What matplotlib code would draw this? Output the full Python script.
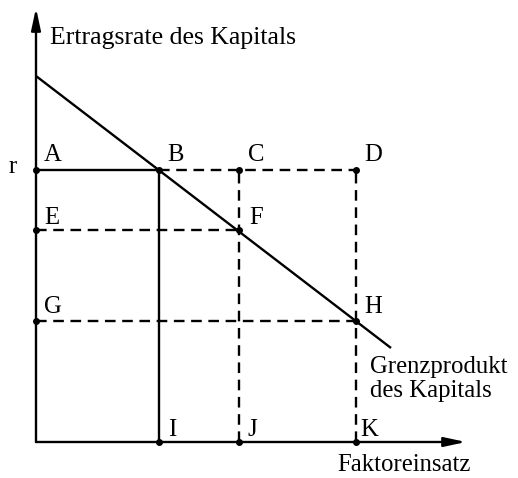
import matplotlib
matplotlib.use("Agg")
import matplotlib.pyplot as plt

# data (in drawing units, origin at axes crossing)
x_levels = [123, 203, 320]          # I, J, K
y_levels = [272, 212, 121]          # r (A), E, G
line_x = [0, 355]
line_y = [366, 94]
x_labels = ["I", "J", "K"]
top_labels = ["A", "B", "C", "D"]
left_labels = ["E", "G"]

plt.rcParams['font.family'] = ['Liberation Serif', 'DejaVu Serif']

fig = plt.figure(figsize=(5.18, 4.78), dpi=100)
ax = fig.add_axes([0, 0, 1, 1])
ax.set_xlim(-36, 482)
ax.set_ylim(-36, 442)
ax.axis('off')

lw = 1.7
dash = (0, (4.5, 2.8))
fs = 17.8
fs_title = 18.5

# axes with arrows
ax.annotate("", xy=(0, 434), xytext=(0, 0),
            arrowprops=dict(arrowstyle="-|>,head_length=1.3,head_width=0.28", color="black", lw=lw, shrinkA=0, shrinkB=0))
ax.annotate("", xy=(430, 0), xytext=(0, 0),
            arrowprops=dict(arrowstyle="-|>,head_length=1.3,head_width=0.28", color="black", lw=lw, shrinkA=0, shrinkB=0))

xI, xJ, xK = x_levels
yA, yE, yG = y_levels

# marginal product line
ax.plot(line_x, line_y, color="black", lw=lw, solid_capstyle="butt")

# solid rectangle part
ax.plot([0, xI], [yA, yA], color="black", lw=lw)
ax.plot([xI, xI], [0, yA], color="black", lw=lw)

# dashed lines
ax.plot([xI, xK], [yA, yA], color="black", lw=lw, linestyle=dash)
ax.plot([xJ, xJ], [0, yA], color="black", lw=lw, linestyle=dash)
ax.plot([xK, xK], [0, yA], color="black", lw=lw, linestyle=dash)
ax.plot([0, xJ], [yE, yE], color="black", lw=lw, linestyle=dash)
ax.plot([0, xK], [yG, yG], color="black", lw=lw, linestyle=dash)

# dots
pts = [(0, yA), (xI, yA), (xJ, yA), (xK, yA), (0, yE), (xJ, yE), (0, yG), (xK, yG),
       (xI, 0), (xJ, 0), (xK, 0)]
ax.scatter([p[0] for p in pts], [p[1] for p in pts], s=16, color="black", zorder=5)

# labels
for lab, x in zip(top_labels, [0, xI, xJ, xK]):
    ax.text(x + 17, yA + 15, lab, fontsize=fs, ha="center", va="center")
ax.text(16, yE + 12, "E", fontsize=fs, ha="center", va="center")
ax.text(xJ + 17, yE + 12, "F", fontsize=fs, ha="center", va="center")
ax.text(17, yG + 14, "G", fontsize=fs, ha="center", va="center")
ax.text(xK + 17, yG + 14, "H", fontsize=fs, ha="center", va="center")
for lab, x in zip(x_labels, x_levels):
    ax.text(x + 13, 12, lab, fontsize=fs, ha="center", va="center")
ax.text(-23, yA + 3, "r", fontsize=fs, ha="center", va="center")

ax.text(14, 404, "Ertragsrate des Kapitals", fontsize=fs_title, ha="left", va="center")
ax.text(334, 75, "Grenzprodukt", fontsize=fs, ha="left", va="center")
ax.text(334, 51, "des Kapitals", fontsize=fs, ha="left", va="center")
ax.text(301, -23, "Faktoreinsatz", fontsize=fs, ha="left", va="center")

fig.savefig("out.png", dpi=100)
